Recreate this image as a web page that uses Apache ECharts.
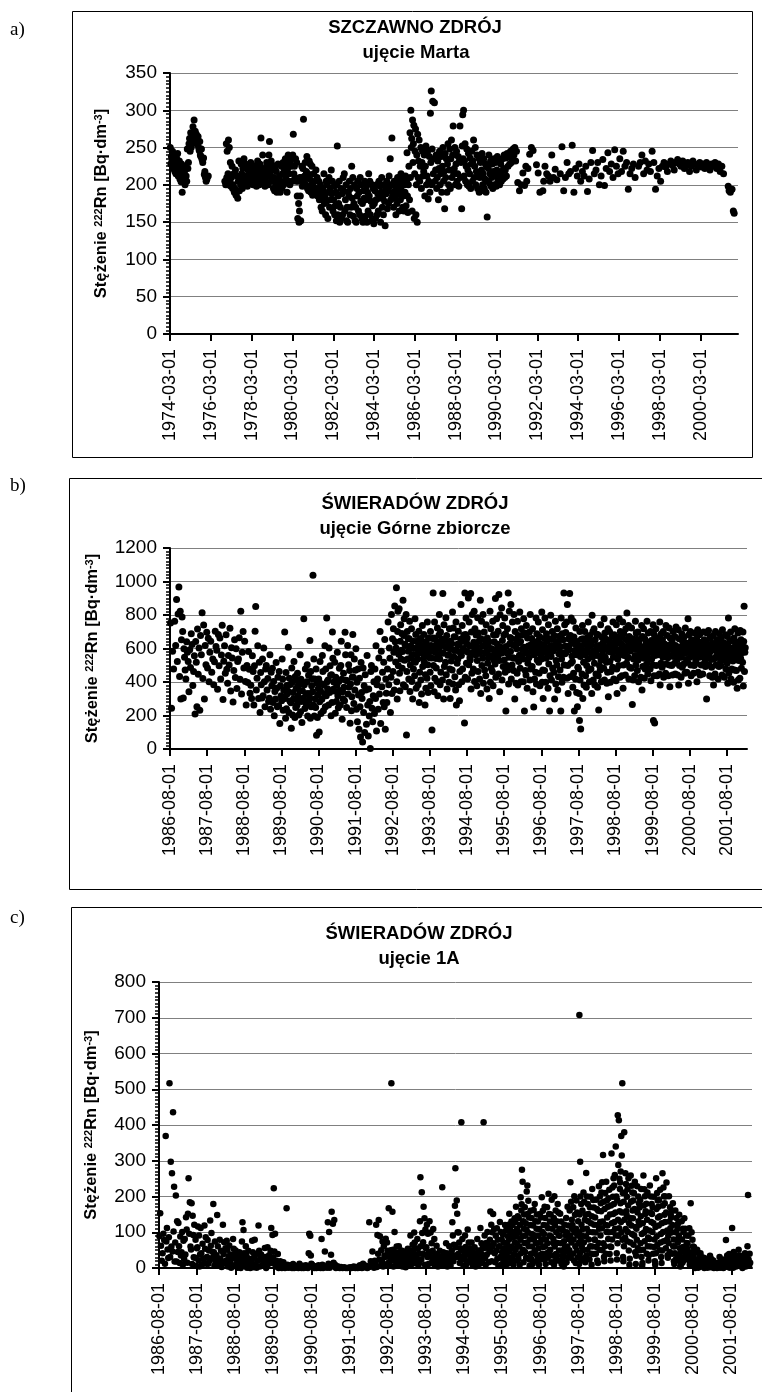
<!DOCTYPE html>
<html>
<head>
<meta charset="utf-8">
<title>Stężenie 222Rn</title>
<script src="https://cdn.jsdelivr.net/npm/echarts@6.0.0/dist/echarts.min.js"></script>
<style>
  html, body { margin: 0; padding: 0; background: #fff; }
  #chart { width: 762px; height: 1392px; }
</style>
</head>
<body>
<div id="chart"></div>
<script>
// readings are grouped by month, one line per year; each month lists the
// readings taken in it, in order

// a) Szczawno Zdrój, ujęcie Marta - months from 1974-03
var martaMonths = [
  [250,228,238],[232,245,222],[226,240,218],[230,215,236],[225,242,212],[218,232,208],[214,204,228],[190,222,210],[206,218,200],[225,212,205],[248,222,230],[255,262,245],
  [270,250,258],[268,278,256],[287,262,272],[260,268,255],[255,265,250],[246,258,240],[238,248,234],[230,236],[214,218,210],[205,208],[212],[],
  [],[],[],[],[],[],[],[],[205,200],[255,210,245,200],[215,260,205,250],[205,230,198],
  [210,225,195],[200,215,190],[195,220,186],[190,212,182],[205,232,192],[210,200,228],[215,195,222],[208,235,200],[205,228,212],[210,198,220],[202,225,215],[212,230,205],
  [208,222,200],[215,205,218],[210,226,198],[212,232,204],[220,200,228],[225,263,210],[215,240,205],[210,222,198],[218,205,230],[212,225,200],[240,258,215],[220,232,210],
  [205,226,195],[210,192,222],[200,218,190],[208,228,195],[200,212,190],[205,225,195],[215,230,200],[220,205,235],[212,228,190],[222,240,205],[215,200,232],[225,238,205],
  [240,268,215],[225,210,235],[205,230,185],[155,205,175,150],[165,210,185,152],[210,225,198],[222,288,205],[212,230,200],[218,238,195],[215,192,232],[208,228,190],[200,225,186],
  [198,215,190],[205,192,220],[195,210,185],[190,205,180],[185,200,170],[180,165,195],[192,215,175],[185,160,205],[178,200,155],[190,210,170],[195,180,220],[188,205,165],
  [180,198,160],[172,190,152],[200,252,160,185],[175,205,150],[170,195,155],[188,160,210],[192,215,165],[180,200,152],[170,150,190],[185,205,160],[195,170,225],[182,210,158],
  [175,200,152],[170,150,195],[185,205,165],[190,160,210],[178,200,155],[175,150,192],[182,205,158],[180,198,150],[190,165,215],[185,205,160],[178,152,200],[172,195,148],
  [175,192,155],[180,200,160],[188,165,205],[182,198,150],[190,210,170],[185,160,200],[178,145,195],[188,205,168],[192,175,212],[198,235,180],[200,263,185],[190,170,205],
  [182,198,160],[195,175,210],[188,202,165],[195,180,215],[192,208,170],[185,165,200],[190,212,172],[205,243,185,163],[200,225,180],[270,210,300,250],[262,165,287,230],[255,280,155,215],
  [245,275,160,200],[240,150,268,210],[232,260,205],[225,250,195],[230,245,212],[218,240,185],[225,252,200],[212,245,181],[205,238,190],[296,230,326,200],[248,312,215],[235,310,205],
  [220,240,195],[210,232,180],[222,245,200],[215,238,190],[225,250,205],[218,168,242],[210,235,190],[228,255,200],[220,248,195],[235,260,210],[240,279,215],[222,250,200],
  [228,245,205],[215,238,198],[232,279,210],[230,168,252],[294,235,300,212],[232,255,205],[225,248,200],[220,242,198],[215,236,195],[228,245,205],[232,260,210],[225,250,200],
  [218,240,195],[212,236,190],[210,230,192],[220,242,200],[215,235,195],[208,228,190],[225,157,205],[222,240,202],[215,232,198],[210,228,195],[218,235,200],[212,230,198],
  [220,238,205],[215,232,200],[212,228,205],[218,235,208],[222,240,210],[220,236,212],[242,225],[238,228],[245,230],[235,248],[240,250],[232,245],
  [203],[192],[200],[216],[199],[225,205],[222],[241],[250],[246],[],[227],
  [216],[190],[],[192,205],[225],[215],[212],[205],[240],[210],[221],[207],
  [],[215],[251],[192],[210],[230],[215],[218],[253],[190],[222],[212],
  [228],[205],[218],[212],[225],[191],[208],[230],[246],[215],[220],[230],
  [200],[212],[234],[199],[222],[243],[218],[228],[210],[247],[225],[215],
  [235],[218],[245],[225],[230],[194],[215],[222],[228],[210],[],[225],
  [230],[240],[215],[232],[220],[228],[218],[245],[230],[194],[212],[222],
  [205],[225],[230],[224],[218],[228],[232],[226],[220],[230],[234],[228],
  [225],[232],[222],[226],[230],[218],[225],[232],[228],[220],[226],[230],
  [224],[228],[222],[230],[226],[220],[228],[225],[230],[222],[228],[218],
  [225],[215],[],[],[198,192],[190],[194],[165,162],[],[]
];
var martaTickLabels = ['1974-03-01','1976-03-01','1978-03-01','1980-03-01','1982-03-01','1984-03-01','1986-03-01',
  '1988-03-01','1990-03-01','1992-03-01','1994-03-01','1996-03-01','1998-03-01','2000-03-01'];

// b) Świeradów Zdrój, ujęcie Górne zbiorcze - months from 1986-08
var gorneMonths = [
  [752,244,583],[478,763,618],[893,522,806,967],[433,822,298,652,788],[702,305,598,548,471],[418,641,577,523],[342,593,486,688],[624,379,463,557],[209,642,518,252,716],[447,603,231,678],[562,813,421,741],[298,618,503,697],
  [484,661,402,578],[643,458,537],[383,521,703,612],[589,357,684,497],[663,418,561,739],[296,524,617,452],[682,476,392,558],[502,721,347,604],[543,281,468,652],[427,598,361,522],[538,664,417,822],[328,577,702,483],
  [643,403,262,498],[397,582,476,333],[381,302,557,463],[263,497,703,851,352],[422,617,301,518],[218,457,383,304,538],[318,603,402,252,477],[498,352,421,283],[303,562,238,458,377],[482,277,403,198,343],[298,517,362,252,428],[258,463,152,377,318],
  [288,537,418,232,352,310],[698,302,183,457,241,379,330],[347,608,218,423,287,385],[276,124,483,398,203,338,300],[522,297,188,433,248,362,410],[262,452,317,382,203,290,350],[563,223,417,283,158,348,390],[303,778,383,242,478,330],[268,402,503,197,332,440,290],[312,648,183,462,252,378,420],[342,1038,263,538,197,418,300],[248,477,82,392,188,323,360],
  [418,102,282,523,348,212,390],[297,558,463,228,382,330],[617,252,478,318,782,402,360],[412,263,603,338,497,440],[198,443,278,698,542,357,400],[347,518,213,428,283,380],[577,318,247,403,482,350],[262,498,643,417,178,342,300],[452,368,288,697,562,410],[248,408,618,328,503,370],[468,153,388,562,228,312,430],[683,428,272,538,352,470],
  [598,238,398,163,478,322],[118,423,252,72,517,338],[302,42,483,218,378,98],[443,352,148,558,263],[78,358,197,283,3,462],[498,243,162,318,402],[212,478,302,617,108,383],[418,238,543,328,702],[152,583,372,458,278],[518,252,653,118,418,333],[278,478,758,383,603],[542,218,428,803,332,658],
  [462,718,578,352,853,640,520],[603,962,402,298,702,823,497,565],[838,452,348,643,742,538,590,690],[482,582,888,383,678,778,530,625],[372,618,803,84,463,702,538,660],[583,418,658,762,343,502,615,545],[718,403,562,298,643,478,600,525],[438,778,518,683,362,603,565,645],[538,383,618,703,278,458,585,660],[412,652,328,573,738,492,615,540],[683,518,598,263,443,362,640,560],[423,758,503,338,662,578,615,545],
  [458,702,378,618,543,113,660,585],[932,498,663,342,758,423,578,615,540],[483,643,403,722,318,558,600,680],[803,538,383,698,458,622,575,655],[412,928,572,298,742,493,648,610],[518,783,443,678,358,603,560,640],[562,398,718,478,302,643,595,525],[628,472,818,388,722,552,670,590],[432,668,352,758,262,588,512,625],[538,703,383,622,288,462,575,655],[862,558,402,738,478,643,600,680],[588,155,932,428,683,782,512,630],
  [662,418,578,902,503,758,615,545],[532,928,358,698,452,803,612,575],[478,638,822,403,718,562,600,680],[612,378,528,783,462,692,570,645],[418,582,888,332,658,762,498,615],[542,803,392,618,698,472,575,650],[438,742,583,358,662,512,620,545],[642,302,558,823,398,718,482,595],[598,462,762,378,682,532,640,565],[508,898,428,682,778,592,625,545],[703,448,922,528,342,802,608,575],[572,842,412,648,738,492,605,680],
  [532,782,458,688,227,612,575,498],[718,472,932,388,548,822,628,665],[582,862,418,658,502,758,545,620],[468,803,542,298,702,618,392,655],[598,452,762,382,678,522,635,560],[818,482,642,402,718,558,595,680],[538,402,778,608,227,692,468,575],[442,738,578,362,662,512,615,545],[548,698,412,803,478,622,585,660],[492,718,342,638,251,562,418,600],[612,458,782,388,688,532,575,645],[758,518,452,672,378,592,625,555],
  [538,818,398,712,472,302,622,585,660],[468,782,608,398,542,688,575,645],[582,362,742,508,658,227,438,615],[798,552,412,618,702,482,585,655],[458,678,298,602,762,388,528,635],[502,718,352,642,432,568,605,675],[472,612,227,782,538,398,688,575],[652,428,932,502,742,568,615,695],[578,758,422,862,498,332,658,615],[592,928,432,678,512,782,635,555],[522,368,762,452,668,227,588,625],[418,722,562,338,642,252,488,595],
  [478,618,332,170,702,412,552,120,585,655],[592,448,738,302,658,518,382,625],[702,562,438,632,368,498,595,665],[538,758,468,612,402,678,575,645],[478,622,332,798,548,702,412,585],[718,512,382,652,578,448,615,685],[558,368,682,438,233,618,498,595],[472,742,532,402,668,598,565,635],[622,482,778,412,692,548,595,655],[518,392,648,458,718,312,582,615],[702,522,398,638,462,578,605,675],[488,758,548,418,682,612,585,645],
  [602,408,742,478,332,668,538,575,635],[498,778,562,428,702,632,595,665],[438,618,758,362,502,688,558,595],[578,442,718,652,512,812,615,545],[548,738,418,672,488,612,585,645],[482,722,598,265,658,412,538,625],[622,438,558,762,502,692,595,655],[468,698,532,402,642,588,615,565],[612,428,548,738,352,672,492,585],[718,542,422,658,478,598,625,565],[508,762,568,448,692,632,595,535],[598,478,702,408,648,538,575,625],
  [502,742,170,622,438,682,155,558,595,655],[718,498,612,438,662,562,585,645],[568,448,758,382,628,512,688,595],[488,652,548,702,428,602,575,625],[622,452,738,508,572,678,595,545],[438,608,722,502,372,662,558,625],[598,498,648,442,702,552,585,615],[512,672,448,618,728,568,595,535],[442,562,712,382,658,498,608,575],[602,428,548,688,488,642,575,615],[508,668,572,452,722,618,595,535],[458,632,518,778,392,682,578,605],
  [548,702,502,438,652,598,575,625],[602,452,642,498,692,552,585,525],[512,658,402,608,712,458,562,635],[548,682,442,598,638,502,575,615],[612,448,562,698,508,652,585,535],[492,638,588,298,692,542,615,565],[708,502,558,438,662,612,585,535],[488,632,428,592,678,382,538,615],[598,448,702,502,552,652,625,575],[552,418,638,492,688,602,575,525],[498,662,558,442,712,608,585,635],[578,428,628,532,682,478,605,555],
  [512,672,392,618,782,452,568,595,645],[542,698,418,602,478,648,575,525],[598,398,662,472,718,538,625,565],[468,638,362,588,692,412,528,615],[602,422,708,542,652,482,575,625],[518,698,376,642,852,462,578,605]
];

// c) Świeradów Zdrój, ujęcie 1A - months from 1986-08
var jedenAMonths = [
  [89,153,62,20],[41,96,78,12],[369,74,112,52,28],[86,517,31,297,60],[265,46,436,102,227,18],[71,203,18,131,45],[126,61,14,88,35],[44,101,9,76,25],[81,38,142,108,15],[152,251,96,184,60],[52,181,11,146,92,30],[121,29,79,6,55],
  [58,116,22,91,4,38],[112,41,9,68,25],[26,119,54,86,12],[31,78,12,49,20],[133,62,98,28,45],[179,44,6,74,19,30],[36,148,61,8,22],[79,26,48,3,14],[121,39,72,14,55],[21,76,51,4,33],[63,16,38,1,26],[28,81,54,7,40],
  [49,11,24,1,35],[6,44,19,0,28],[74,128,9,106,41,20],[12,61,34,1,22],[48,4,26,0,15],[18,76,44,2,30],[79,9,39,1,20],[21,119,48,4,32],[38,6,22,14],[9,56,31,0,18],[58,11,36,22],[48,112,14,92,30],
  [223,46,96,4,20],[14,39,0,6],[19,6,0,3],[16,4,0,8],[167,9,1,4],[2,8,0],[11,0,4],[5,1,0],[12,3,0],[6,0,2],[8,1,0],[41,96,4,90,35,12],
  [9,2,0],[5,0,2],[8,1,0],[81,9,0,4],[46,4,1],[128,12,101,1,6],[37,157,6,124,15],[134,9,0,3],[5,1,0],[3,0],[2,0],[0,1],
  [2,0,1],[4,0],[3,0,1],[8,1,0],[12,2,5],[6,0,2],[128,4,19,8],[46,9,1,20],[16,121,3,92,40],[134,24,89,6,50],[19,74,4,61,35],[31,82,9,71,48],
  [14,167,39,6,25,50],[517,21,157,51,4,35],[101,26,44,9,60,18],[39,18,61,6,28,45],[16,49,36,4,25,8],[46,11,29,2,38,20],[21,54,34,6,42,12],[91,29,49,11,65,20],[41,99,71,14,55,28],[24,81,54,6,40,15],[131,254,61,24,212,98,40],[72,171,38,139,9,108,55],
  [58,121,31,96,11,45],[131,42,99,14,69,28],[48,109,21,81,6,35],[19,62,39,4,28],[14,48,31,6,22],[226,26,44,9,35,15],[21,69,41,4,30],[14,61,34,6,25],[49,128,91,19,65,35],[174,279,58,31,189,152,100],[39,99,71,14,55,25],[408,49,81,24,6,35],
  [31,91,59,9,45,18],[108,39,71,16,55,28],[19,71,44,6,32],[21,58,41,4,30,10],[81,24,49,11,38],[112,41,69,14,55,25],[408,56,91,29,9,70],[38,101,64,16,50],[79,158,46,121,19,100,60],[151,69,109,41,16,90],[48,111,26,79,6,60],[61,129,31,101,9,80,45],
  [44,94,21,71,6,55,30,120,15],[20,105,40,70,11,31,89,54,121],[79,152,46,109,14,95,60,130,30],[25,120,85,55,9,101,38,139,71],[129,51,171,88,21,110,65,145,35],[25,140,100,60,9,121,79,198,41,161],[178,275,89,241,51,131,16,110,150,70],[170,45,90,125,29,108,214,71,231,151],[99,188,61,141,24,6,80,120,160,40],[25,140,95,60,11,119,41,162,79],[91,179,49,131,19,70,110,150,35],[20,130,90,55,9,109,36,151,71],
  [24,141,80,198,40,101,160,59,120],[95,25,171,60,140,11,79,119,41],[170,69,29,111,208,45,151,90,130],[51,150,89,16,191,110,35,129,70],[81,140,9,201,60,119,20,161,39,100],[131,35,70,179,21,155,91,49,110],[90,152,20,69,130,11,109,34,50],[105,31,4,75,121,45,59,15,91],[140,16,100,60,171,30,119,81,44],[50,161,90,240,29,185,71,135,109],[120,40,170,80,21,201,99,149,61],[14,110,189,49,155,91,30,131,70],
  [100,11,708,150,41,297,200,79,25,179,121,60],[90,161,109,50,211,71,185,29,135],[16,150,89,266,35,110,200,51,179,131],[151,80,101,24,170,61,199,125,40],[9,145,221,60,100,190,39,169,121,79],[80,141,99,40,191,59,165,21,120],[14,160,70,229,110,51,200,129,91,181],[159,211,111,240,50,130,316,69,185,31],[19,165,61,210,120,40,241,101,189,141],[119,171,81,195,100,219,39,150,60],[21,175,59,320,125,80,225,101,199,151,251],[179,231,129,260,110,155,340,91,200,41],
  [24,190,69,427,135,288,90,413,111,250,159,221],[239,181,270,129,369,100,315,155,517,79,210,31],[19,185,61,380,135,211,85,265,109,235,159],[149,199,75,220,101,175,251,49,125,9],[26,140,71,259,185,119,230,95,211,161],[139,189,65,210,91,165,241,44,115,11],[34,110,79,229,155,55,200,131,181],[121,169,50,190,69,145,221,31,95,6],[14,125,51,259,175,99,220,75,201,151],[159,109,180,40,135,211,61,85,21],[36,105,81,231,155,60,200,129,179],[151,101,170,40,125,199,59,80,19],
  [9,115,41,251,165,89,210,65,189,141],[171,119,190,50,145,219,71,95,31],[14,125,49,265,175,101,225,75,201,149],[181,129,200,55,155,239,79,105,36],[29,90,69,201,130,45,170,111,149],[141,99,160,40,120,181,61,80,19],[11,60,41,161,100,25,140,79,119],[109,71,125,20,90,149,34,55,4],[6,45,29,131,80,15,110,59,101],[21,139,49,110,35,91,70],[55,69,25,90,41,111,9],[16,181,44,100,30,79,60],
  [31,59,9,0,20,45],[24,51,6,1,15,38],[19,41,4,30,10],[11,29,0,20,5],[9,26,1,18,4],[16,34,2,25,8],[8,21,0,14,3],[6,14,0,10,2],[11,31,1,20,5],[9,24,0,16,3],[21,78,4,35,12],[14,39,1,26,6],
  [31,112,9,1,45,20],[16,36,4,25,10],[24,51,6,35,15],[11,29,0,20,5],[19,41,4,30,10],[61,204,24,6,40,15]
];
var swieradowTickLabels = ['1986-08-01','1987-08-01','1988-08-01','1989-08-01','1990-08-01','1991-08-01','1992-08-01','1993-08-01',
  '1994-08-01','1995-08-01','1996-08-01','1997-08-01','1998-08-01','1999-08-01','2000-08-01','2001-08-01'];

var FONT = '"Liberation Sans", Arial, sans-serif';

// place the readings of a month one after another inside that month
function toPoints(months) {
  var pts = [];
  months.forEach(function (vals, m) {
    vals.forEach(function (v, i) {
      pts.push([m + (i + 0.5) / vals.length, v]);
    });
  });
  return pts;
}

function xAxisFor(gridIndex, max, step, labels) {
  var ticks = labels.map(function (l, i) { return i * step; });
  return {
    type: 'value', gridIndex: gridIndex, min: 0, max: max, interval: step,
    axisLine: { lineStyle: { color: '#000', width: 2 } },
    axisTick: { length: 7, customValues: ticks, lineStyle: { color: '#000', width: 2 } },
    axisLabel: {
      rotate: 90, margin: 15, fontSize: 18, fontFamily: FONT, color: '#000',
      customValues: ticks,
      formatter: function (v) { return labels[Math.round(v / step)]; }
    },
    splitLine: { show: false }
  };
}

function yAxisFor(gridIndex, max, step, nameGap) {
  return {
    type: 'value', gridIndex: gridIndex, min: 0, max: max, interval: step,
    axisLine: { show: true, lineStyle: { color: '#000', width: 2 } },
    axisTick: { show: true, length: 7, lineStyle: { color: '#000', width: 2 } },
    minorTick: { show: true, splitNumber: 10, length: 4, lineStyle: { color: '#000', width: 1.5 } },
    axisLabel: {
      fontSize: 19, fontFamily: FONT, color: '#000', margin: 13,
      formatter: function (v) { return String(v); }
    },
    splitLine: { lineStyle: { color: '#808080', width: 1 } },
    name: 'Stężenie {sup|222}Rn [Bq·dm{sup|-3}]',
    nameLocation: 'middle', nameGap: nameGap,
    nameTextStyle: {
      fontSize: 16.5, fontWeight: 'bold', fontFamily: FONT, color: '#000',
      rich: { sup: { fontSize: 11, fontWeight: 'bold', fontFamily: FONT, color: '#000', verticalAlign: 'top' } }
    }
  };
}

function scatter(idx, months, size) {
  return {
    type: 'scatter', xAxisIndex: idx, yAxisIndex: idx,
    data: toPoints(months), symbol: 'circle', symbolSize: size,
    itemStyle: { color: '#000', opacity: 1 }, silent: true
  };
}

function frame(x, y, w, h) {
  return { type: 'rect', shape: { x: x + 0.5, y: y + 0.5, width: w, height: h },
    style: { fill: 'none', stroke: '#000', lineWidth: 1 } };
}

function text(str, x, y, font, align) {
  return { type: 'text', x: x, y: y,
    style: { text: str, font: font, fill: '#000', align: align || 'center', verticalAlign: 'middle' } };
}

var titleFont = 'bold 18.5px ' + FONT;
var tagFont = '19px "Liberation Serif", "Times New Roman", serif';

var chart = echarts.init(document.getElementById('chart'));
chart.setOption({
  animation: false,
  backgroundColor: '#fff',
  grid: [
    { left: 170, top: 73, width: 568, height: 261 },
    { left: 170, top: 548, width: 577, height: 201 },
    { left: 159, top: 982, width: 593, height: 286 }
  ],
  xAxis: [
    xAxisFor(0, 334, 24, martaTickLabels),
    xAxisFor(1, 186.5, 12, swieradowTickLabels),
    xAxisFor(2, 186.5, 12, swieradowTickLabels)
  ],
  yAxis: [
    yAxisFor(0, 350, 50, 60),
    yAxisFor(1, 1200, 200, 69),
    yAxisFor(2, 800, 100, 59)
  ],
  series: [
    scatter(0, martaMonths, 7),
    scatter(1, gorneMonths, 7),
    scatter(2, jedenAMonths, 6.5)
  ],
  graphic: [
    frame(72, 11, 680, 446),
    frame(69, 478, 710, 411),
    frame(71, 907, 710, 500),
    text('a)', 10, 30, tagFont, 'left'),
    text('b)', 10, 486, tagFont, 'left'),
    text('c)', 10, 918, tagFont, 'left'),
    text('SZCZAWNO ZDRÓJ', 415, 28, titleFont),
    text('ujęcie Marta', 416, 53, titleFont),
    text('ŚWIERADÓW ZDRÓJ', 415, 504, titleFont),
    text('ujęcie Górne zbiorcze', 415, 529, titleFont),
    text('ŚWIERADÓW ZDRÓJ', 419, 934, titleFont),
    text('ujęcie 1A', 419, 959, titleFont)
  ]
});
</script>
</body>
</html>
